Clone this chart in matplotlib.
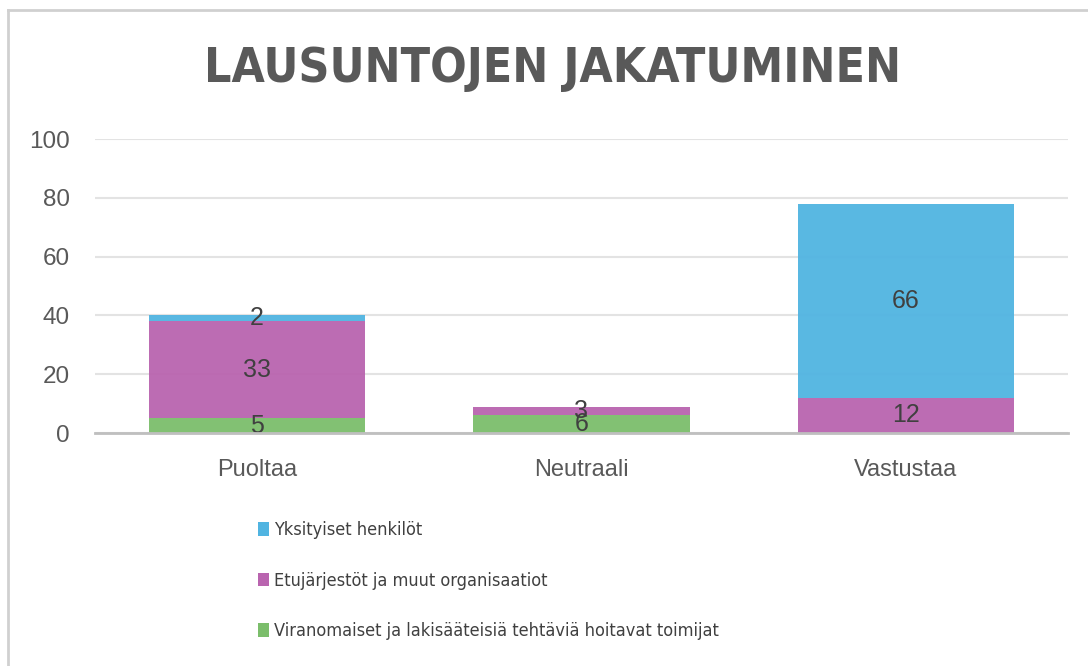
import matplotlib
matplotlib.use("Agg")
import matplotlib.pyplot as plt
from matplotlib.lines import Line2D
from matplotlib.patches import Patch
import numpy as np

categories = ["Puoltaa", "Neutraali", "Vastustaa"]
viranomaiset = [5, 6, 0]
etujarjestot = [33, 3, 12]
yksityiset = [2, 0, 66]
series_names = ["Viranomaiset ja lakisääteisiä tehtäviä hoitavat toimijat",
                "Etujärjestöt ja muut organisaatiot",
                "Yksityiset henkilöt"]
colors = ["#7BBE6B", "#B964AF", "#50B4E1"]
yticks = [0, 20, 40, 60, 80, 100]

plt.rcParams['font.family'] = ['Liberation Sans', 'DejaVu Sans']

fig = plt.figure(figsize=(10.88, 6.66), dpi=100)
ax = fig.add_axes([0.0873, 0.3498, 0.8943, 0.4414])

x = np.arange(len(categories))
bottom = np.zeros(len(categories))
for vals, col in zip([viranomaiset, etujarjestot, yksityiset], colors):
    ax.bar(x, vals, width=0.667, bottom=bottom, color=col, alpha=0.95, zorder=2)
    for xi, v, b in zip(x, vals, bottom):
        if v > 0:
            ax.text(xi, b + v / 2, str(v), ha='center', va='center',
                    fontsize=18, color='#404040', zorder=3)
    bottom = bottom + np.array(vals)

ax.set_xlim(-0.5, 2.5)
ax.set_ylim(0, 100)
ax.set_yticks(yticks)
ax.set_yticklabels([str(t) for t in yticks], fontsize=17.5, color='#595959')
ax.set_xticks(x)
ax.set_xticklabels(categories, fontsize=17, color='#595959')
ax.tick_params(axis='y', length=0, pad=18)
ax.tick_params(axis='x', length=0, pad=19)
ax.grid(axis='y', color='#e3e3e3', linewidth=1.5, zorder=1)
ax.set_axisbelow(True)
for s in ['top', 'right', 'left']:
    ax.spines[s].set_visible(False)
ax.spines['bottom'].set_color('#bfbfbf')
ax.spines['bottom'].set_linewidth(2)
ax.spines['bottom'].set_zorder(4)

fig.text(553 / 1088, 1 - 68 / 666, "LAUSUNTOJEN JAKATUMINEN", ha='center', va='center',
         fontsize=34.5, fontweight='bold', color='#595959',
         family=['DejaVu Sans'], fontstretch='condensed')

handles = [Patch(facecolor=c) for c in colors[::-1]]
leg = fig.legend(handles, series_names[::-1], loc='upper left',
                 bbox_to_anchor=(242 / 1088, 1 - 505 / 666), frameon=False,
                 prop={'family': ['DejaVu Sans'], 'size': 13, 'stretch': 'condensed'},
                 labelcolor='#404040', handlelength=0.6, handleheight=0.75,
                 handletextpad=0.25, labelspacing=1.8)

# figure frame (partially cropped)
fig.add_artist(Line2D([8 / 1088, 1.0], [1 - 10 / 666, 1 - 10 / 666],
                      transform=fig.transFigure, color='#d0d0d0', linewidth=2))
fig.add_artist(Line2D([8 / 1088, 8 / 1088], [0, 1 - 10 / 666],
                      transform=fig.transFigure, color='#d0d0d0', linewidth=2))

fig.savefig("out.png", dpi=100)
